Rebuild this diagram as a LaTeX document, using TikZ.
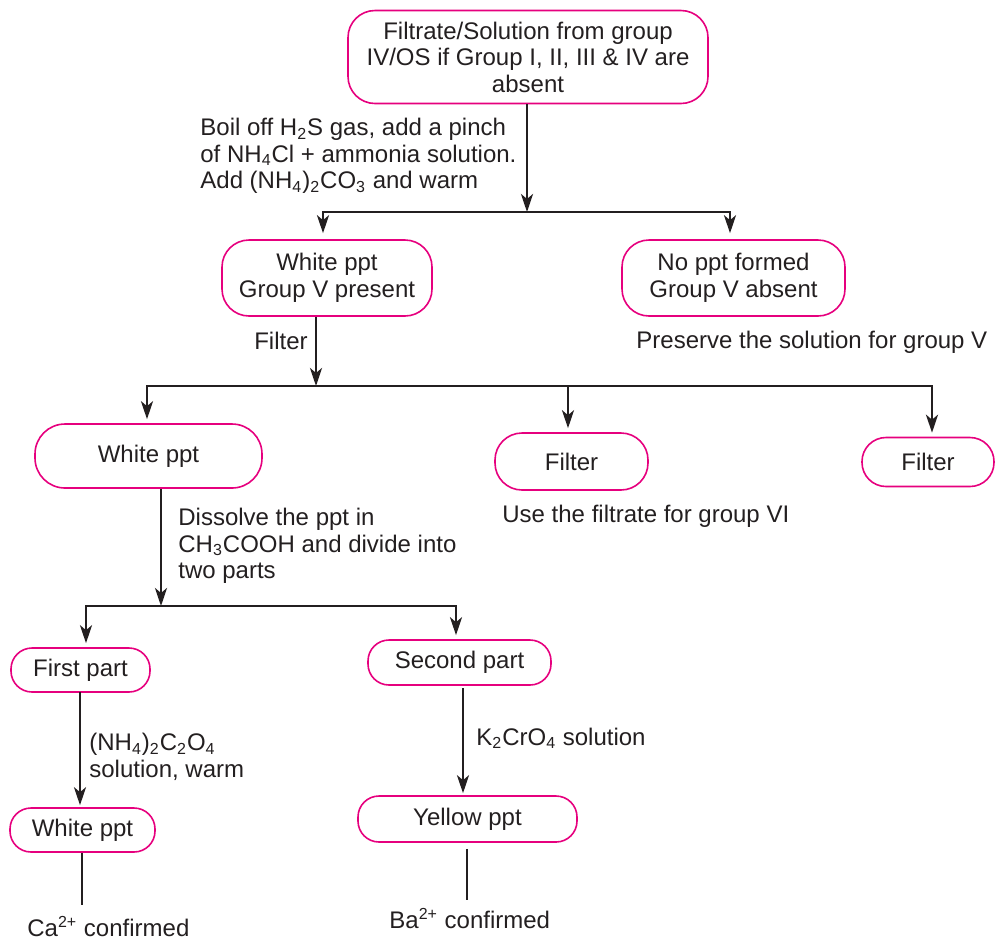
\documentclass[tikz,border=0pt]{standalone}
\usepackage{fontspec}
\setmainfont{Liberation Sans}
\usetikzlibrary{arrows.meta,calc}
\definecolor{pinkb}{HTML}{E6007E}
\definecolor{ink}{HTML}{231F20}
\newcommand{\sbs}[1]{\textsubscript{#1}}
\begin{document}
\begin{tikzpicture}[x=0.5pt,y=-0.5pt,
  font=\fontsize{12pt}{13.25pt}\selectfont, text=ink,
  box/.style={draw=pinkb, line width=0.8pt, rounded corners=13.5pt, align=center, inner sep=0pt},
  sbox/.style={box, rounded corners=10.5pt},
  conn/.style={draw=ink, line width=1.35pt},
  arr/.style={conn, -{Stealth[length=9pt,width=6pt,inset=2.5pt]}},
  lab/.style={inner sep=0pt, align=left}]
\useasboundingbox (0,0) rectangle (995,939);

% boxes
\node[box, minimum width=180pt, minimum height=46.5pt] (top) at (528,57)
  {Filtrate/Solution from group\\IV/OS if Group I, II, III \& IV are\\absent};
\node[box, minimum width=105pt, minimum height=38pt] (wp) at (327,278)
  {White ppt\\Group V present};
\node[box, minimum width=111.5pt, minimum height=38pt] (np) at (733.5,278)
  {No ppt formed\\Group V absent};
\node[box, rounded corners=15pt, minimum width=113.5pt, minimum height=32pt] (wp2) at (148.5,456) {White ppt};
\node[box, minimum width=76.5pt, minimum height=28.5pt] (f1) at (571.5,461.5) {Filter};
\node[sbox, rounded corners=12pt, minimum width=66pt, minimum height=24.5pt] (f2) at (928,462) {Filter};
\node[sbox, minimum width=69.5pt, minimum height=22pt] (fp) at (80.5,670) {First part};
\node[sbox, minimum width=91.5pt, minimum height=22.5pt] (sp) at (459.5,662.5) {Second part};
\node[sbox, minimum width=72.5pt, minimum height=22pt] (wp3) at (82.5,830) {White ppt};
\node[sbox, minimum width=109.5pt, minimum height=23pt] (yp) at (467.5,819) {Yellow ppt};

% labels
\node[lab, anchor=north west] (boil) at (200,118)
  {Boil off H\sbs{2}S gas, add a pinch\\of NH\sbs{4}Cl + ammonia solution.\\Add (NH\sbs{4})\sbs{2}CO\sbs{3} and warm};
\node[lab, anchor=base east] (filt) at (308,349) {Filter};
\node[lab, anchor=base west] (pres) at (636,348) {Preserve the solution for group V};
\node[lab, anchor=base west] (use) at (502,522) {Use the filtrate for group VI};
\node[lab, anchor=north west] (diss) at (178,508)
  {Dissolve the ppt in\\CH\sbs{3}COOH and divide into\\two parts};
\node[lab, anchor=north west] (oxa) at (89,733)
  {(NH\sbs{4})\sbs{2}C\sbs{2}O\sbs{4}\\solution, warm};
\node[lab, anchor=base west] (chro) at (476,745) {K\sbs{2}CrO\sbs{4} solution};
\node[lab, anchor=base west] (ca) at (27,936) {Ca\textsuperscript{2+} confirmed};
\node[lab, anchor=base west] (ba) at (389,928) {Ba\textsuperscript{2+} confirmed};

% junction coordinates
\coordinate (j1) at (527,212);
\coordinate (j1L) at (323,212);
\coordinate (j1R) at (730,212);
\coordinate (j2) at (316,386);
\coordinate (j2L) at (147,386);
\coordinate (j2M) at (568,386);
\coordinate (j2R) at (932,386);
\coordinate (j3) at (161,606);
\coordinate (j3L) at (86,606);
\coordinate (j3R) at (456,606);
\coordinate (c1) at (82,905);
\coordinate (c2) at (467,900);
\coordinate (s1) at (80,692);
\coordinate (s2) at (463,688);

% connectors
\draw[arr] (top.south -| j1) -- (j1);
\draw[arr, shorten >=3pt] (j1) -| (wp.north -| j1L);
\draw[arr, shorten >=3pt] (j1) -| (np.north -| j1R);

\draw[arr] (wp.south -| j2) -- (j2);
\draw[arr, shorten >=2pt] (j2) -| (wp2.north -| j2L);
\draw[arr, shorten >=2pt] (j2) -| (f2.north -| j2R);
\draw[arr, shorten >=2pt] (j2M) -- (f1.north -| j2M);

\draw[arr] (wp2.south -| j3) -- (j3);
\draw[arr, shorten >=2pt] (j3) -| (fp.north -| j3L);
\draw[arr, shorten >=2pt] (j3) -| (sp.north -| j3R);

\draw[arr, shorten >=1pt] (s1) -- (s1 |- wp3.north);
\draw[arr, shorten >=1pt] (s2) -- (s2 |- yp.north);

\draw[conn] (wp3.south -| c1) -- (c1);
\draw[conn] (yp.south -| c2) ++(0,6) -- (c2);
\end{tikzpicture}
\end{document}
